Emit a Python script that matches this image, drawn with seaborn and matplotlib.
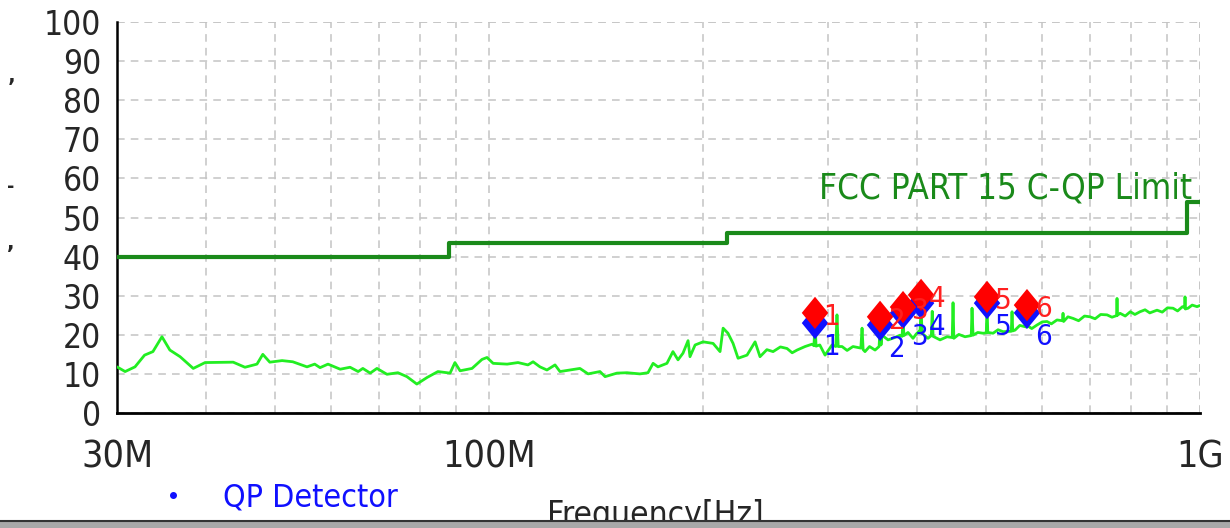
import numpy as np
import pandas as pd
import matplotlib
matplotlib.use("Agg")
import matplotlib.pyplot as plt
from matplotlib.lines import Line2D
from matplotlib.path import Path
from matplotlib.patches import Rectangle
from matplotlib.ticker import FixedLocator, NullFormatter
import seaborn as sns

# ---- data (MHz, dBuV/m) ----
trace_freq = [30.0, 30.8, 31.8, 32.8, 33.7, 34.7, 35.6, 36.8, 38.4, 39.9,
              43.7, 45.4, 47.2, 48.1, 49.2, 51.2, 53.0, 55.5, 56.9, 57.9,
              59.4, 61.8, 63.8, 65.5, 66.5, 68.1, 69.6, 71.9, 74.5, 76.7,
              79.2, 81.9, 84.8, 88.2, 89.6, 91.1, 94.7, 97.8, 99.4, 101.4,
              106.1, 109.9, 113.5, 115.4, 118.0, 120.7, 123.9, 125.9, 130.1, 134.3,
              137.9, 143.3, 145.7, 151.4, 156.4, 163.1, 167.4, 170.2, 172.9, 178.0,
              181.5, 184.5, 187.5, 190.6, 191.8, 195.0, 200.1, 206.7, 211.4, 213.5,
              216.9, 220.5, 224.1, 230.7, 236.8, 240.6, 246.0, 251.0, 257.0, 262.6,
              267.0, 271.3, 278.4, 284.8, 286.5, 287.5, 288.5, 292.0, 297.0, 303.8,
              307.5, 308.7, 309.9, 313.8, 319.0, 325.1, 333.5, 334.8, 336.0, 338.0,
              343.0, 349.2, 353.8, 354.9, 356.0, 357.2, 364.2, 371.0, 378.6, 381.2,
              382.3, 383.4, 388.5, 394.9, 399.0, 404.0, 405.3, 406.6, 414.5, 419.0,
              420.2, 421.4, 431.0, 440.9, 448.3, 449.5, 450.7, 458.0, 467.3, 476.8,
              478.0, 479.6, 487.0, 495.4, 500.6, 501.8, 503.0, 511.7, 520.0, 528.5,
              542.8, 544.1, 545.4, 549.4, 558.0, 567.5, 569.9, 571.1, 572.3, 580.0,
              589.9, 600.0, 609.4, 618.0, 629.4, 640.6, 641.8, 643.0, 652.0, 662.9,
              675.0, 688.0, 700.4, 712.0, 725.0, 740.1, 752.0, 763.2, 764.4, 765.6,
              771.9, 785.0, 798.0, 810.0, 823.5, 837.0, 850.0, 870.1, 885.0, 900.0,
              916.4, 930.0, 945.0, 951.5, 952.7, 953.9, 961.9, 975.0, 990.4, 1000.0]
trace_level = [11.8, 10.6, 11.8, 14.8, 15.7, 19.5, 16.1, 14.4, 11.4, 12.9,
               13.0, 11.7, 12.5, 15.0, 13.0, 13.4, 13.1, 11.8, 12.5, 11.6,
               12.5, 11.2, 11.7, 10.6, 11.4, 10.2, 11.4, 9.9, 10.3, 9.3,
               7.4, 9.1, 10.6, 10.2, 12.9, 10.8, 11.4, 13.7, 14.2, 12.7,
               12.5, 12.9, 12.3, 13.1, 11.8, 11.0, 12.3, 10.6, 11.0, 11.4,
               10.0, 10.6, 9.3, 10.2, 10.3, 10.0, 10.3, 12.7, 11.8, 12.7,
               15.7, 13.6, 15.3, 18.5, 14.4, 17.4, 18.2, 17.8, 15.7, 21.7,
               20.4, 17.8, 14.0, 14.8, 18.2, 14.4, 16.2, 15.7, 16.9, 16.5,
               15.4, 16.1, 17.0, 17.6, 17.2, 22.8, 17.1, 17.4, 14.8, 17.4,
               17.0, 25.1, 17.0, 17.0, 16.0, 17.0, 16.6, 21.7, 16.2, 15.7,
               17.0, 16.1, 17.0, 21.8, 17.4, 19.9, 18.7, 19.2, 19.9, 19.6,
               24.8, 19.8, 20.6, 19.1, 20.2, 21.2, 27.2, 20.4, 19.1, 19.8,
               26.0, 19.6, 18.7, 19.5, 19.3, 28.2, 19.1, 20.1, 19.5, 19.8,
               26.8, 19.9, 20.6, 20.4, 20.5, 27.6, 20.6, 20.4, 21.3, 20.8,
               20.9, 25.9, 21.0, 21.2, 22.4, 22.1, 22.0, 25.3, 22.3, 21.6,
               22.5, 23.3, 23.4, 22.8, 23.8, 23.6, 25.5, 23.4, 24.6, 24.2,
               23.6, 24.8, 24.6, 24.1, 25.2, 25.1, 24.5, 24.9, 29.3, 25.0,
               25.5, 24.8, 25.9, 25.2, 25.9, 26.4, 25.6, 26.3, 25.8, 26.9,
               26.8, 26.1, 27.2, 26.9, 29.7, 26.6, 26.8, 27.6, 27.2, 27.5]

limit_freq = [30, 88, 216, 960, 1000]
limit_level = [40, 43.5, 46, 54, 54]

marker_ids = ["1", "2", "3", "4", "5", "6"]
marker_freq = [287.5, 354.9, 382.3, 405.3, 501.8, 571.1]
peak_level = [25.6, 24.6, 27.1, 30.2, 29.7, 27.6]
qp_level = [23.0, 22.5, 25.6, 28.1, 28.1, 25.6]

ytick_vals = list(range(0, 101, 10))
xtick_vals = [30, 100, 1000]
xtick_text = ["30M", "100M", "1G"]
minor_vals = [40, 50, 60, 70, 80, 90, 200, 300, 400, 500, 600, 700, 800, 900]

trace = pd.DataFrame({"freq": trace_freq, "level": trace_level})
limit = pd.DataFrame({"freq": limit_freq, "level": limit_level})
marks = pd.DataFrame({"id": marker_ids, "freq": marker_freq,
                      "peak": peak_level, "qp": qp_level})

sns.set_style("white")
plt.rcParams["font.family"] = ["DejaVu Sans"]
plt.rcParams["font.stretch"] = "condensed"

# tall diamond, like the analyser's marker
diamond = Path([(0, 1), (0.82, 0), (0, -1), (-0.82, 0), (0, 1)],
               [Path.MOVETO, Path.LINETO, Path.LINETO, Path.LINETO, Path.CLOSEPOLY])

fig = plt.figure(figsize=(12.3, 5.28), dpi=100)
ax = fig.add_axes([117 / 1230, 1 - 413 / 528, (1200 - 117) / 1230, (413 - 22) / 528])
ax.set_xscale("log")

sns.lineplot(data=trace, x="freq", y="level", ax=ax, color="#22ee22", lw=2,
             estimator=None, sort=False, zorder=3)
sns.lineplot(data=limit, x="freq", y="level", ax=ax, color="#1a8a1a", lw=3,
             drawstyle="steps-post", estimator=None, zorder=4)

sns.scatterplot(data=marks, x="freq", y="qp", ax=ax, marker=diamond, s=540,
                color="#1010ff", edgecolor="none", zorder=5)
sns.scatterplot(data=marks, x="freq", y="peak", ax=ax, marker=diamond, s=540,
                color="#ff0000", edgecolor="none", zorder=6)
for _, r in marks.iterrows():
    ax.annotate(r["id"], (r["freq"], r["peak"]), xytext=(8, -12),
                textcoords="offset pixels", color="#ff2020", fontsize=21, zorder=7)
    ax.annotate(r["id"], (r["freq"], r["qp"]), xytext=(8, -32),
                textcoords="offset pixels", color="#1010ff", fontsize=21, zorder=7)

ax.text(975, 57.5, "FCC PART 15 C-QP Limit", color="#1a8a1a", fontsize=25,
        ha="right", va="center", zorder=8)

ax.set_xlim(30, 1000)
ax.set_ylim(0, 100)
ax.xaxis.set_major_locator(FixedLocator(xtick_vals))
ax.set_xticklabels(xtick_text)
ax.xaxis.set_minor_locator(FixedLocator(minor_vals))
ax.xaxis.set_minor_formatter(NullFormatter())
ax.set_yticks(ytick_vals)
ax.set_xlabel("")
ax.set_ylabel("")

ax.grid(True, which="both", axis="x", color="#c4c4c4", ls=(0, (5, 4)), lw=1.1)
ax.grid(True, which="major", axis="y", color="#c4c4c4", ls=(0, (5, 4)), lw=1.1)
ax.axhline(100, color="#c4c4c4", ls=(0, (5, 4)), lw=1.1)
ax.axvline(1000, color="#c4c4c4", ls=(0, (5, 4)), lw=1.1)

for s in ["top", "right"]:
    ax.spines[s].set_visible(False)
ax.spines["left"].set_linewidth(1.8)
ax.spines["bottom"].set_linewidth(2)
ax.spines["left"].set_color("black")
ax.spines["bottom"].set_color("black")
ax.tick_params(axis="y", direction="inout", length=17, width=1.5, labelsize=24, pad=3)
ax.tick_params(axis="x", which="major", direction="inout", length=8, width=1.5,
               labelsize=27, pad=15)
ax.tick_params(axis="x", which="minor", direction="inout", length=8, width=1.5)

# bottom legend and axis title, cut by the status bar
handle = Line2D([], [], marker="o", ls="", color="#1010ff", ms=4, label="QP Detector")
fig.legend(handles=[handle], loc="center left", bbox_to_anchor=(0.098, 0.057),
           frameon=False, fontsize=23, labelcolor="#1010ff", handletextpad=0.8,
           handlelength=1.5)
fig.text(655 / 1230, 3 / 528, "Frequency[Hz]", fontsize=24, ha="center", va="baseline")
fig.patches.append(Rectangle((0, 0), 1, 7 / 528, transform=fig.transFigure,
                             facecolor="#a8a8a8", edgecolor="none", zorder=20))
fig.lines.append(Line2D([0, 1], [7.5 / 528, 7.5 / 528], transform=fig.transFigure,
                        color="#333333", lw=1.5, zorder=21))

# fragments of a clipped y-axis title
fig.text(0.006, 1 - 88 / 528, "\u2019", fontsize=16, va="center", weight="bold")
fig.text(0.006, 1 - 186 / 528, "-", fontsize=14, va="center", weight="bold")
fig.text(0.006, 1 - 243 / 528, ",", fontsize=16, va="center", weight="bold")

fig.savefig("out.png", dpi=100)
